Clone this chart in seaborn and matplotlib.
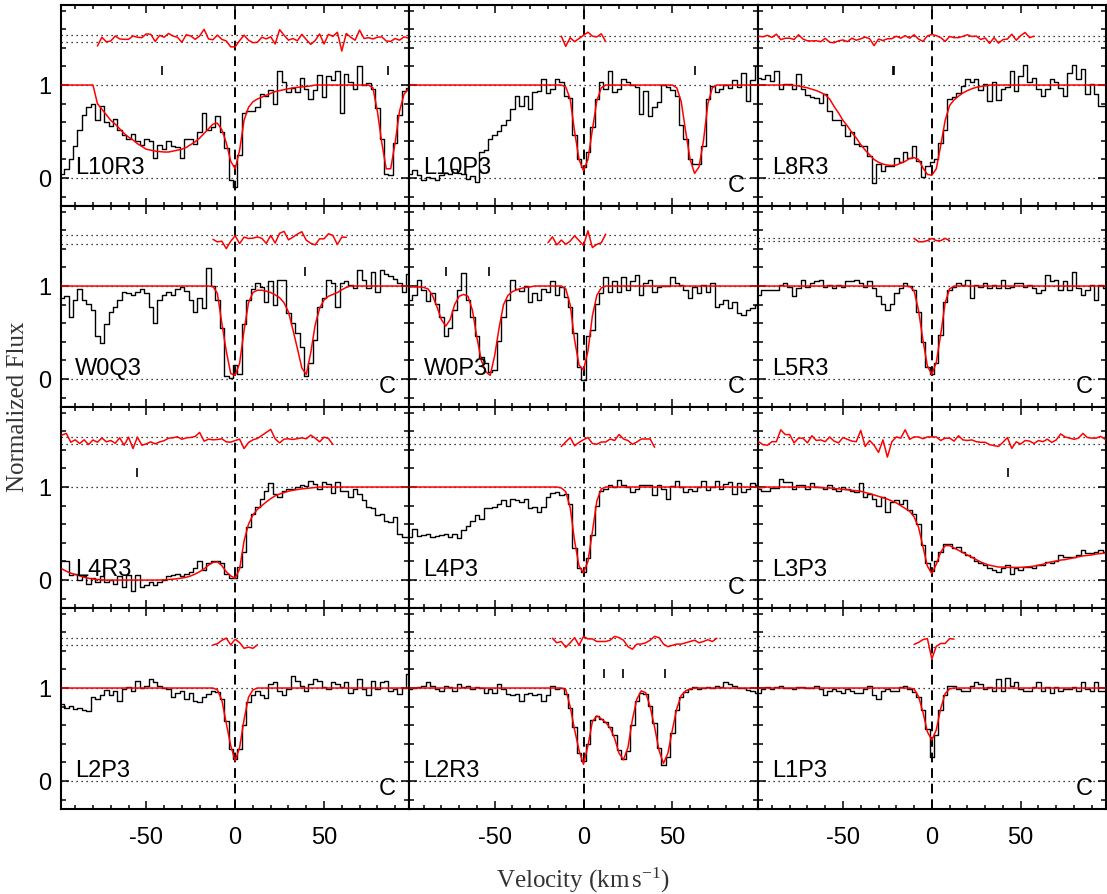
import numpy as np
import matplotlib
matplotlib.use("Agg")
import matplotlib.pyplot as plt
from matplotlib.ticker import FixedLocator, MultipleLocator, NullFormatter
import seaborn as sns

# ---------------------------------------------------------------------------
# Data: normalised flux per 2.5 km/s pixel, model profile, fit windows
# ---------------------------------------------------------------------------
VEL_STEP = 2.5
velocity = np.arange(-97.5, 97.5 + 0.01, VEL_STEP)  # pixel centres, 79 bins

panel_names = ["L10R3", "L10P3", "L8R3",
               "W0Q3", "W0P3", "L5R3",
               "L4R3", "L4P3", "L3P3",
               "L2P3", "L2R3", "L1P3"]

# panels whose transition is flagged as contaminated ("C")
flag_c = ["L10P3", "W0Q3", "W0P3", "L5R3", "L4P3", "L2P3", "L1P3"]

flux_L10R3 = [0.04, 0.10, 0.20, 0.35, 0.52, 0.68, 0.76, 0.80, 0.62, 0.77,
              0.60, 0.56, 0.64, 0.52, 0.46, 0.42, 0.47, 0.40, 0.36, 0.42,
              0.40, 0.22, 0.36, 0.31, 0.40, 0.35, 0.33, 0.22, 0.42, 0.42,
              0.37, 0.49, 0.70, 0.52, 0.55, 0.67, 0.50, 0.32, -0.02, -0.10,
              0.25, 0.70, 0.72, 0.72, 0.76, 0.90, 0.88, 0.95, 0.80, 1.15,
              1.03, 0.92, 0.97, 0.92, 1.08, 0.96, 0.85, 0.95, 1.11, 0.87,
              1.10, 1.05, 1.15, 0.70, 1.12, 1.03, 0.96, 1.20, 1.00, 1.02,
              0.96, 0.75, 0.42, 0.04, 0.03, 0.38, 0.68, 0.94, 0.97]
model_L10R3 = [1, 1, 1, 1, 1, 1, 1, 1, 0.80, 0.74,
               0.68, 0.62, 0.58, 0.53, 0.48, 0.44, 0.41, 0.37, 0.34, 0.31,
               0.30, 0.29, 0.285, 0.28, 0.28, 0.29, 0.30, 0.31, 0.33, 0.36,
               0.39, 0.43, 0.48, 0.53, 0.58, 0.59, 0.52, 0.38, 0.18, 0.10,
               0.30, 0.62, 0.76, 0.82, 0.85, 0.87, 0.89, 0.91, 0.93, 0.94,
               0.95, 0.96, 0.97, 0.975, 0.98, 0.985, 0.99, 1, 1, 1,
               1, 1, 1, 1, 1, 1, 1, 1, 1, 1,
               0.97, 0.72, 0.38, 0.10, 0.10, 0.38, 0.72, 0.90, 0.96]

flux_L10P3 = [0.04, 0.09, 0.03, -0.02, 0.01, 0.00, -0.02, 0.03, 0.06, 0.04,
              0.10, 0.06, 0.04, -0.01, 0.02, -0.04, 0.28, 0.30, 0.42, 0.46,
              0.51, 0.57, 0.62, 0.74, 0.88, 0.77, 0.88, 0.74, 0.92, 0.94,
              1.06, 0.91, 0.96, 1.06, 1.03, 0.88, 0.86, 0.46, 0.20, 0.12,
              0.28, 0.55, 0.85, 1.03, 0.96, 1.15, 0.92, 0.96, 1.06, 1.03,
              1.00, 0.98, 0.69, 0.94, 0.67, 0.76, 0.82, 1.00, 0.98, 0.95,
              0.88, 0.57, 0.42, 0.20, 0.15, 0.15, 0.35, 0.85, 0.99, 0.92,
              0.96, 1.00, 0.97, 1.05, 0.98, 1.13, 0.83, 1.05, 1.20]
model_L10P3 = [1, 1, 1, 1, 1, 1, 1, 1, 1, 1,
               1, 1, 1, 1, 1, 1, 1, 1, 1, 1,
               1, 1, 1, 1, 1, 1, 1, 1, 1, 1,
               1, 1, 1, 1, 1, 0.98, 0.85, 0.50, 0.20, 0.08,
               0.20, 0.52, 0.83, 0.97, 1, 1, 1, 1, 1, 1,
               1, 1, 1, 1, 1, 1, 1, 1, 1, 1,
               0.97, 0.82, 0.50, 0.20, 0.05, 0.12, 0.40, 0.80, 0.97, 1,
               1, 1, 1, 1, 1, 1, 1, 1, 1]

flux_L8R3 = [1.08, 1.06, 1.11, 1.04, 1.15, 0.96, 1.01, 1.01, 0.96, 1.12,
             0.96, 0.89, 0.87, 0.86, 0.81, 0.90, 0.72, 0.62, 0.62, 0.57,
             0.45, 0.50, 0.37, 0.35, 0.35, 0.24, -0.05, 0.15, 0.08, 0.13,
             0.13, 0.22, 0.17, 0.28, 0.22, 0.35, 0.18, 0.01, 0.13, 0.17,
             0.20, 0.38, 0.52, 0.85, 0.87, 0.91, 0.99, 1.07, 1.03, 1.06,
             0.95, 1.01, 0.83, 1.03, 0.84, 0.96, 0.98, 1.15, 0.94, 1.10,
             1.21, 1.03, 1.08, 0.96, 0.88, 0.96, 1.06, 1.03, 0.97, 0.88,
             1.13, 1.22, 1.06, 1.17, 0.90, 1.01, 0.90, 0.78, 0.78]
model_L8R3 = [1, 1, 1, 1, 1, 1, 1, 1, 0.995, 0.99,
              0.98, 0.97, 0.955, 0.94, 0.92, 0.895, 0.85, 0.77, 0.70, 0.62,
              0.56, 0.49, 0.43, 0.36, 0.30, 0.25, 0.20, 0.17, 0.15, 0.14,
              0.135, 0.14, 0.16, 0.18, 0.21, 0.22, 0.20, 0.11, 0.04, 0.03,
              0.10, 0.35, 0.62, 0.78, 0.84, 0.88, 0.915, 0.94, 0.96, 0.975,
              0.985, 0.99, 1, 1, 1, 1, 1, 1, 1, 1,
              1, 1, 1, 1, 1, 1, 1, 1, 1, 1,
              1, 1, 1, 1, 1, 1, 1, 1, 1]

flux_W0Q3 = [0.87, 0.89, 0.67, 0.85, 0.97, 0.85, 0.81, 0.74, 0.46, 0.39,
             0.59, 0.72, 0.78, 0.85, 0.94, 0.92, 0.90, 0.94, 0.97, 0.92,
             0.78, 0.60, 0.85, 0.90, 0.94, 0.90, 0.97, 0.99, 0.95, 0.85,
             0.72, 0.87, 0.76, 1.19, 1.00, 0.85, 0.55, 0.03, 0.01, 0.15,
             0.05, 0.59, 0.85, 0.97, 1.03, 0.99, 0.83, 1.05, 0.80, 1.06,
             1.06, 0.71, 0.60, 0.49, 0.35, 0.03, 0.17, 0.42, 0.78, 0.87,
             1.06, 1.03, 0.78, 1.03, 1.05, 1.01, 0.98, 1.17, 1.06, 0.98,
             1.15, 0.94, 1.17, 1.13, 1.11, 1.08, 1.03, 0.94, 1.13]
model_W0Q3 = [1, 1, 1, 1, 1, 1, 1, 1, 1, 1,
              1, 1, 1, 1, 1, 1, 1, 1, 1, 1,
              1, 1, 1, 1, 1, 1, 1, 1, 1, 1,
              1, 1, 1, 1, 0.995, 0.92, 0.60, 0.30, 0.06, 0.04,
              0.17, 0.52, 0.82, 0.93, 0.955, 0.955, 0.945, 0.93, 0.905, 0.875,
              0.82, 0.72, 0.53, 0.33, 0.12, 0.05, 0.28, 0.58, 0.76, 0.85,
              0.89, 0.91, 0.93, 0.96, 0.985, 1, 1, 1, 1, 1,
              1, 1, 1, 1, 1, 1, 1, 1, 1]

flux_W0P3 = [0.85, 0.90, 1.06, 0.96, 0.84, 0.92, 0.81, 0.67, 0.46, 0.55,
             0.74, 0.96, 1.14, 0.85, 0.67, 0.46, 0.24, 0.17, 0.08, 0.10,
             0.41, 0.67, 0.85, 1.06, 0.97, 0.95, 1.00, 0.83, 0.92, 0.85,
             0.97, 0.94, 1.05, 0.90, 0.99, 0.88, 0.77, 0.49, 0.13, -0.01,
             0.46, 0.53, 0.81, 0.92, 1.10, 0.94, 1.05, 0.94, 1.10, 0.96,
             1.05, 1.12, 0.90, 1.03, 1.07, 0.94, 0.99, 1.00, 1.00, 1.10,
             1.03, 1.01, 0.96, 0.87, 0.99, 0.92, 1.01, 0.94, 1.03, 0.78,
             0.81, 0.85, 0.76, 0.83, 0.71, 0.69, 0.74, 0.76, 0.80]
model_W0P3 = [0.99, 0.99, 0.99, 0.985, 0.97, 0.90, 0.78, 0.64, 0.57, 0.64,
              0.80, 0.89, 0.91, 0.89, 0.74, 0.45, 0.20, 0.08, 0.04, 0.25,
              0.55, 0.80, 0.90, 0.94, 0.96, 0.975, 0.985, 0.99, 1, 1,
              1, 1, 1, 1, 1, 0.97, 0.80, 0.42, 0.15, 0.10,
              0.30, 0.68, 0.90, 0.98, 1, 1, 1, 1, 1, 1,
              1, 1, 1, 1, 1, 1, 1, 1, 1, 1,
              1, 1, 1, 1, 1, 1, 1, 1, 1, 1,
              1, 1, 1, 1, 1, 1, 1, 1, 1]

flux_L5R3 = [0.90, 0.96, 0.96, 0.96, 0.96, 1.01, 1.03, 0.99, 0.89, 0.975,
             1.06, 0.99, 1.03, 1.05, 1.06, 0.99, 1.01, 0.975, 1.01, 0.99,
             1.05, 1.05, 1.06, 1.03, 0.99, 1.05, 0.975, 0.89, 0.81, 0.74,
             0.81, 0.92, 0.975, 1.03, 1.00, 0.96, 0.72, 0.40, 0.13, 0.06,
             0.17, 0.47, 0.83, 0.96, 0.99, 1.03, 1.01, 1.06, 0.87, 1.01,
             0.99, 1.03, 0.975, 1.01, 0.975, 1.06, 0.975, 0.99, 1.03, 1.03,
             0.99, 1.01, 0.975, 0.92, 0.96, 1.12, 1.05, 1.06, 0.96, 1.05,
             0.96, 1.15, 0.975, 0.90, 0.96, 1.01, 0.85, 1.01, 0.975]
model_L5R3 = [1, 1, 1, 1, 1, 1, 1, 1, 1, 1,
              1, 1, 1, 1, 1, 1, 1, 1, 1, 1,
              1, 1, 1, 1, 1, 1, 1, 1, 1, 1,
              1, 1, 1, 1, 0.995, 0.95, 0.74, 0.42, 0.14, 0.05,
              0.18, 0.48, 0.82, 0.97, 1, 1, 1, 1, 1, 1,
              1, 1, 1, 1, 1, 1, 1, 1, 1, 1,
              1, 1, 1, 1, 1, 1, 1, 1, 1, 1,
              1, 1, 1, 1, 1, 1, 1, 1, 1]

flux_L4R3 = [0.20, 0.20, 0.05, 0.07, 0.00, 0.04, -0.04, 0.02, -0.02, 0.04,
             -0.02, 0.00, -0.04, 0.04, -0.07, 0.05, -0.12, 0.05, -0.07, -0.05,
             -0.02, -0.05, -0.02, 0.00, 0.04, 0.05, 0.07, 0.04, 0.07, 0.09,
             0.125, 0.21, 0.11, 0.18, 0.20, 0.21, 0.18, 0.07, 0.02, 0.02,
             0.14, 0.30, 0.57, 0.71, 0.79, 0.875, 0.96, 1.04, 0.93, 0.89,
             0.96, 0.98, 0.98, 1.00, 1.02, 1.01, 1.07, 1.03, 0.98, 1.05,
             1.03, 0.94, 1.05, 0.96, 0.96, 0.89, 0.98, 0.92, 0.86, 0.79,
             0.77, 0.70, 0.71, 0.63, 0.625, 0.68, 0.50, 0.46, 0.46]
model_L4R3 = [0.12, 0.095, 0.075, 0.06, 0.045, 0.03, 0.02, 0.012, 0.006, 0.002,
              0, 0, 0, 0, 0, 0, 0, 0, 0, 0,
              0, 0, 0.001, 0.003, 0.006, 0.01, 0.015, 0.022, 0.03, 0.045,
              0.065, 0.09, 0.12, 0.16, 0.19, 0.195, 0.155, 0.09, 0.045, 0.02,
              0.12, 0.42, 0.60, 0.70, 0.76, 0.80, 0.84, 0.875, 0.905, 0.925,
              0.94, 0.955, 0.965, 0.973, 0.98, 0.985, 0.99, 0.995, 1, 1,
              1, 1, 1, 1, 1, 1, 1, 1, 1, 1,
              1, 1, 1, 1, 1, 1, 1, 1, 1]

flux_L4P3 = [0.46, 0.55, 0.47, 0.48, 0.50, 0.46, 0.47, 0.48, 0.50, 0.46,
             0.50, 0.45, 0.54, 0.58, 0.63, 0.70, 0.66, 0.77, 0.77, 0.79,
             0.82, 0.86, 0.80, 0.87, 0.86, 0.84, 0.875, 0.77, 0.79, 0.73,
             0.79, 0.89, 0.94, 0.95, 0.91, 0.93, 0.82, 0.35, 0.125, 0.09,
             0.24, 0.48, 0.80, 0.96, 0.98, 1.02, 1.00, 1.08, 1.02, 1.00,
             0.95, 0.98, 1.02, 1.02, 1.02, 0.91, 1.02, 0.98, 0.875, 1.01,
             1.07, 1.00, 0.95, 0.98, 0.96, 1.00, 1.06, 0.97, 1.00, 1.07,
             0.98, 1.03, 1.05, 0.93, 1.04, 0.95, 0.98, 1.04, 1.02]
model_L4P3 = [1, 1, 1, 1, 1, 1, 1, 1, 1, 1,
              1, 1, 1, 1, 1, 1, 1, 1, 1, 1,
              1, 1, 1, 1, 1, 1, 1, 1, 1, 1,
              1, 1, 1, 1, 0.99, 0.95, 0.78, 0.42, 0.15, 0.08,
              0.20, 0.52, 0.85, 0.98, 1, 1, 1, 1, 1, 1,
              1, 1, 1, 1, 1, 1, 1, 1, 1, 1,
              1, 1, 1, 1, 1, 1, 1, 1, 1, 1,
              1, 1, 1, 1, 1, 1, 1, 1, 1]

flux_L3P3 = [0.98, 0.96, 0.96, 0.99, 0.99, 1.09, 1.05, 1.05, 0.98, 1.02,
             1.02, 0.98, 1.04, 1.00, 1.00, 0.98, 1.02, 0.98, 0.96, 1.00,
             0.98, 0.96, 0.95, 1.04, 0.89, 0.93, 0.875, 0.80, 0.89, 0.73,
             0.84, 0.86, 0.82, 0.86, 0.75, 0.71, 0.60, 0.375, 0.18, 0.10,
             0.20, 0.30, 0.39, 0.39, 0.34, 0.36, 0.30, 0.27, 0.25, 0.21,
             0.18, 0.16, 0.125, 0.107, 0.09, 0.125, 0.16, 0.07, 0.125, 0.107,
             0.14, 0.14, 0.125, 0.16, 0.16, 0.196, 0.18, 0.21, 0.27, 0.25,
             0.25, 0.25, 0.27, 0.32, 0.29, 0.29, 0.30, 0.32, 0.30]
model_L3P3 = [0.99, 0.995, 1, 1, 1, 1, 1, 1, 1, 1,
              1, 1, 1, 1, 0.995, 0.99, 0.99, 0.985, 0.98, 0.975,
              0.97, 0.965, 0.96, 0.955, 0.94, 0.93, 0.915, 0.90, 0.885, 0.87,
              0.85, 0.83, 0.80, 0.77, 0.74, 0.68, 0.57, 0.36, 0.15, 0.07,
              0.17, 0.30, 0.37, 0.37, 0.345, 0.32, 0.295, 0.27, 0.245, 0.22,
              0.195, 0.175, 0.16, 0.15, 0.14, 0.14, 0.136, 0.136, 0.136, 0.137,
              0.14, 0.145, 0.15, 0.16, 0.17, 0.185, 0.196, 0.205, 0.215, 0.22,
              0.23, 0.24, 0.25, 0.26, 0.265, 0.27, 0.28, 0.285, 0.29]

flux_L2P3 = [0.83, 0.79, 0.81, 0.775, 0.79, 0.76, 0.75, 0.90, 0.88, 0.92,
             0.98, 0.93, 0.97, 0.86, 0.99, 1.01, 0.97, 1.08, 1.00, 1.02,
             1.10, 1.06, 1.02, 1.00, 0.99, 0.90, 0.95, 0.97, 0.88, 0.95,
             0.86, 0.85, 0.90, 0.94, 0.97, 0.96, 0.88, 0.65, 0.35, 0.24,
             0.35, 0.60, 0.85, 0.92, 0.97, 0.92, 0.89, 1.04, 1.06, 0.97,
             0.92, 0.99, 1.13, 1.08, 1.025, 0.97, 1.04, 1.10, 1.08, 1.01,
             0.99, 1.06, 1.04, 1.01, 1.06, 0.95, 0.99, 1.10, 0.99, 0.92,
             1.08, 0.99, 1.06, 1.08, 0.97, 0.99, 0.94, 1.00, 1.15]
model_L2P3 = [1, 1, 1, 1, 1, 1, 1, 1, 1, 1,
              1, 1, 1, 1, 1, 1, 1, 1, 1, 1,
              1, 1, 1, 1, 1, 1, 1, 1, 1, 1,
              1, 1, 1, 1, 1, 0.98, 0.87, 0.62, 0.38, 0.22,
              0.36, 0.66, 0.90, 0.98, 1, 1, 1, 1, 1, 1,
              1, 1, 1, 1, 1, 1, 1, 1, 1, 1,
              1, 1, 1, 1, 1, 1, 1, 1, 1, 1,
              1, 1, 1, 1, 1, 1, 1, 1, 1]

flux_L2R3 = [0.99, 1.00, 1.01, 1.025, 1.06, 1.025, 0.99, 0.97, 1.025, 1.01,
             0.97, 1.04, 1.01, 1.025, 0.99, 1.01, 1.00, 0.95, 0.99, 0.95,
             1.04, 0.99, 0.94, 0.92, 0.94, 0.86, 0.94, 0.95, 0.92, 0.94,
             0.86, 0.92, 1.025, 0.99, 1.00, 0.94, 0.79, 0.58, 0.30, 0.22,
             0.40, 0.66, 0.70, 0.67, 0.63, 0.58, 0.50, 0.33, 0.24, 0.32,
             0.60, 0.86, 0.95, 0.94, 0.81, 0.62, 0.36, 0.17, 0.26, 0.52,
             0.76, 0.90, 0.96, 0.99, 1.01, 0.99, 1.00, 1.014, 1.00, 1.025,
             1.014, 1.06, 1.04, 1.025, 1.00, 1.00, 0.98, 0.97, 0.95]
model_L2R3 = [1, 1, 1, 1, 1, 1, 1, 1, 1, 1,
              1, 1, 1, 1, 1, 1, 1, 1, 1, 1,
              1, 1, 1, 1, 1, 1, 1, 1, 1, 1,
              1, 1, 1, 1, 1, 0.985, 0.80, 0.55, 0.33, 0.18,
              0.38, 0.64, 0.70, 0.67, 0.63, 0.57, 0.46, 0.30, 0.23, 0.36,
              0.66, 0.88, 0.97, 0.95, 0.80, 0.58, 0.33, 0.19, 0.30, 0.55,
              0.78, 0.92, 0.97, 0.99, 1, 1, 1, 1, 1, 1,
              1, 1, 1, 1, 1, 1, 1, 1, 1]

flux_L1P3 = [0.95, 0.99, 1.01, 0.99, 1.01, 1.025, 1.00, 1.00, 0.99, 1.01,
             1.014, 1.00, 1.00, 1.025, 0.99, 0.92, 0.97, 0.99, 0.97, 0.95,
             0.99, 0.97, 0.95, 0.95, 0.99, 1.025, 0.92, 0.88, 0.97, 0.99,
             0.97, 0.97, 1.01, 1.025, 0.99, 0.96, 0.90, 0.76, 0.56, 0.26,
             0.50, 0.76, 0.92, 1.02, 1.025, 0.99, 0.97, 0.97, 1.025, 1.06,
             1.04, 0.99, 1.01, 0.97, 1.10, 0.97, 1.11, 1.025, 1.06, 0.99,
             0.97, 0.97, 1.01, 1.06, 0.97, 1.01, 0.95, 1.01, 0.97, 0.99,
             0.99, 1.014, 0.97, 1.06, 0.99, 0.97, 1.06, 0.97, 0.97]
model_L1P3 = [1, 1, 1, 1, 1, 1, 1, 1, 1, 1,
              1, 1, 1, 1, 1, 1, 1, 1, 1, 1,
              1, 1, 1, 1, 1, 1, 1, 1, 1, 1,
              1, 1, 1, 1, 1, 0.99, 0.91, 0.74, 0.53, 0.44,
              0.55, 0.78, 0.94, 0.99, 1, 1, 1, 1, 1, 1,
              1, 1, 1, 1, 1, 1, 1, 1, 1, 1,
              1, 1, 1, 1, 1, 1, 1, 1, 1, 1,
              1, 1, 1, 1, 1, 1, 1, 1, 1]

flux = {"L10R3": flux_L10R3, "L10P3": flux_L10P3, "L8R3": flux_L8R3,
        "W0Q3": flux_W0Q3, "W0P3": flux_W0P3, "L5R3": flux_L5R3,
        "L4R3": flux_L4R3, "L4P3": flux_L4P3, "L3P3": flux_L3P3,
        "L2P3": flux_L2P3, "L2R3": flux_L2R3, "L1P3": flux_L1P3}
model = {"L10R3": model_L10R3, "L10P3": model_L10P3, "L8R3": model_L8R3,
         "W0Q3": model_W0Q3, "W0P3": model_W0P3, "L5R3": model_L5R3,
         "L4R3": model_L4R3, "L4P3": model_L4P3, "L3P3": model_L3P3,
         "L2P3": model_L2P3, "L2R3": model_L2R3, "L1P3": model_L1P3}

# velocity window used in each fit (km/s) and residual 1-sigma band
fit_window = {"L10R3": (-78, 98), "L10P3": (-13, 13), "L8R3": (-98, 59),
              "W0Q3": (-13, 63), "W0P3": (-21, 13), "L5R3": (-12, 12),
              "L4R3": (-98, 55), "L4P3": (-14, 40), "L3P3": (-98, 98),
              "L2P3": (-13, 13), "L2R3": (-19, 76), "L1P3": (-12, 13)}
resid_sigma = {"L10R3": 0.040, "L10P3": 0.025, "L8R3": 0.032,
               "W0Q3": 0.043, "W0P3": 0.043, "L5R3": 0.018,
               "L4R3": 0.036, "L4P3": 0.036, "L3P3": 0.036,
               "L2P3": 0.036, "L2R3": 0.041, "L1P3": 0.054}

# velocities of additional fitted components (tick marks)
component_vel = {"L10R3": [-41.4, 86.0], "L10P3": [63.0],
                 "L8R3": [-22.0, -21.2], "W0Q3": [39.5],
                 "W0P3": [-77.6, -53.0], "L5R3": [], "L4R3": [-55.0],
                 "L4P3": [], "L3P3": [43.0], "L2P3": [],
                 "L2R3": [11.3, 22.2, 46.0], "L1P3": []}

x_tick_values = [-50, 0, 50]
x_tick_labels = ["-50", "0", "50"]
y_tick_values = [0, 1]
y_tick_labels = ["0", "1"]

RESID_OFFSET = 1.5


def normalised_residual(f, m, sigma):
    """Residual scaled so that one robust standard deviation maps onto the
    dotted +/- sigma band drawn around RESID_OFFSET."""
    d = f - m
    mad = np.median(np.abs(d - np.median(d))) * 1.4826
    if mad <= 0:
        mad = 1.0
    return RESID_OFFSET + sigma * d / mad


# ---------------------------------------------------------------------------
# Figure
# ---------------------------------------------------------------------------
sns.set_style("ticks")
plt.rcParams["font.family"] = ["Liberation Sans", "DejaVu Sans"]
plt.rcParams["mathtext.fontset"] = "custom"
plt.rcParams["mathtext.rm"] = "Liberation Serif"
plt.rcParams["mathtext.it"] = "Liberation Serif:italic"
plt.rcParams["axes.unicode_minus"] = False
for key in ("text.color", "axes.labelcolor", "xtick.color", "ytick.color",
            "axes.edgecolor"):
    plt.rcParams[key] = "black"

FIG_W, FIG_H = 1107, 894
fig = plt.figure(figsize=(FIG_W / 100, FIG_H / 100), dpi=100)
fig.patch.set_facecolor("white")

left_px, right_px, top_px, bottom_px = 61, 1106, 5, 809
col_w = (right_px - left_px) / 3
row_h = (bottom_px - top_px) / 4

XLIM = (-98, 98)
YLIM = (-0.30, 1.86)
dotted = (0, (1, 3))

for k, name in enumerate(panel_names):
    r, c = divmod(k, 3)
    ax = fig.add_axes([(left_px + c * col_w) / FIG_W,
                       1 - (top_px + (r + 1) * row_h) / FIG_H,
                       col_w / FIG_W, row_h / FIG_H])
    ax.set_facecolor("white")

    f = np.asarray(flux[name], dtype=float)
    m = np.asarray(model[name], dtype=float)
    assert len(f) == len(velocity) and len(m) == len(velocity)

    # reference levels
    for yy in (0.0, 1.0):
        ax.axhline(yy, color="black", lw=0.9, ls=dotted, zorder=1)
    s = resid_sigma[name]
    for yy in (RESID_OFFSET - s, RESID_OFFSET + s):
        ax.axhline(yy, color="black", lw=0.9, ls=dotted, zorder=1)
    ax.axvline(0, color="black", lw=1.4, ls=(0, (5, 3)), zorder=2)

    # observed spectrum
    sns.lineplot(x=velocity, y=f, ax=ax, color="black", lw=1.0,
                 drawstyle="steps-mid", estimator=None, zorder=3)
    # model profile
    sns.lineplot(x=velocity, y=m, ax=ax, color="#ff0000", lw=1.1,
                 estimator=None, zorder=4)
    # residuals inside the fitted window
    lo, hi = fit_window[name]
    sel = (velocity >= lo) & (velocity <= hi)
    resid = normalised_residual(f[sel], m[sel], s)
    sns.lineplot(x=velocity[sel], y=resid, ax=ax, color="#ff0000", lw=1.1,
                 estimator=None, zorder=4)

    # component markers
    if component_vel[name]:
        ax.vlines(component_vel[name], 1.11, 1.20, color="black", lw=1.2,
                  zorder=3)

    ax.text(-90, 0.045, name, fontsize=17, color="black", zorder=5)
    if name in flag_c:
        ax.text(81, -0.15, "C", fontsize=17, color="black", zorder=5)

    ax.set_xlim(*XLIM)
    ax.set_ylim(*YLIM)
    ax.set_xlabel("")
    ax.set_ylabel("")

    ax.xaxis.set_major_locator(FixedLocator(x_tick_values))
    ax.xaxis.set_minor_locator(MultipleLocator(10))
    ax.yaxis.set_major_locator(FixedLocator(y_tick_values))
    ax.yaxis.set_minor_locator(MultipleLocator(0.2))
    ax.tick_params(which="both", direction="in", top=True, right=True,
                   color="black", labelcolor="black", width=1.1)
    ax.tick_params(axis="x", which="major", length=5.8, pad=13,
                   labelsize=17)
    ax.tick_params(axis="x", which="minor", length=3.0)
    ax.tick_params(axis="y", which="major", length=5.5, pad=7,
                   labelsize=17)
    ax.tick_params(axis="y", which="minor", length=3.5)

    if r == 3:
        ax.set_xticklabels(x_tick_labels)
    else:
        ax.xaxis.set_major_formatter(NullFormatter())
    if c == 0:
        ax.set_yticklabels(y_tick_labels)
    else:
        ax.yaxis.set_major_formatter(NullFormatter())

    for sp in ax.spines.values():
        sp.set_linewidth(1.5)
        sp.set_color("black")
        sp.set_visible(True)

fig.text((left_px + right_px) / 2 / FIG_W, 1 - 880 / FIG_H,
         r"Velocity (km$\,$s$^{-1}$)", ha="center", va="center",
         fontsize=18, color="#333333", family=["Liberation Serif"])
fig.text(18 / FIG_W, 1 - (top_px + bottom_px) / 2 / FIG_H,
         "Normalized Flux", ha="center", va="center", rotation=90,
         fontsize=18, color="#333333", family=["Liberation Serif"])

fig.savefig("out.png", dpi=100, facecolor="white")
